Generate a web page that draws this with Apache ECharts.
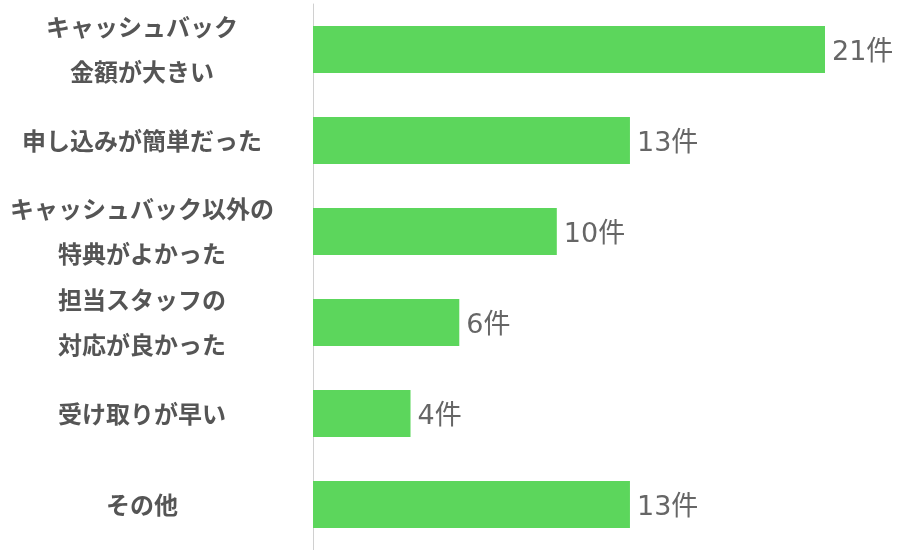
<!DOCTYPE html>
<html>
<head>
<meta charset="utf-8">
<script src="https://cdn.jsdelivr.net/npm/echarts@6/dist/echarts.min.js"></script>
<style>
  html, body { margin: 0; padding: 0; background: #fff; }
  #chart { width: 907px; height: 550px; }
</style>
</head>
<body>
<div id="chart"></div>
<script>
var categories = [
  'キャッシュバック\n金額が大きい',
  '申し込みが簡単だった',
  'キャッシュバック以外の\n特典がよかった',
  '担当スタッフの\n対応が良かった',
  '受け取りが早い',
  'その他'
];
var counts = [21, 13, 10, 6, 4, 13];
var unit = '件';

var myChart = echarts.init(document.getElementById('chart'));
var option = {
  animation: false,
  grid: { left: 313, right: 82, top: 4, bottom: 0 },
  xAxis: {
    type: 'value',
    min: 0,
    max: 21,
    show: false
  },
  yAxis: {
    type: 'category',
    inverse: true,
    data: categories,
    axisLine: { show: true, lineStyle: { color: '#d0d0d0', width: 1 } },
    axisTick: { show: false },
    axisLabel: {
      margin: 171,
      align: 'center',
      color: '#555',
      fontSize: 24,
      fontWeight: 'bold',
      lineHeight: 45,
      fontFamily: '"Noto Sans CJK JP", sans-serif'
    }
  },
  series: [
    {
      type: 'bar',
      data: counts,
      barWidth: 47,
      itemStyle: { color: '#5cd65c' },
      label: {
        show: true,
        position: 'right',
        distance: 7,
        offset: [0, 3],
        color: '#666',
        fontSize: 27,
        fontFamily: '"DejaVu Sans", "Noto Sans CJK JP", sans-serif',
        formatter: function (p) { return p.value + unit; }
      }
    }
  ]
};
option && myChart.setOption(option);
</script>
</body>
</html>
